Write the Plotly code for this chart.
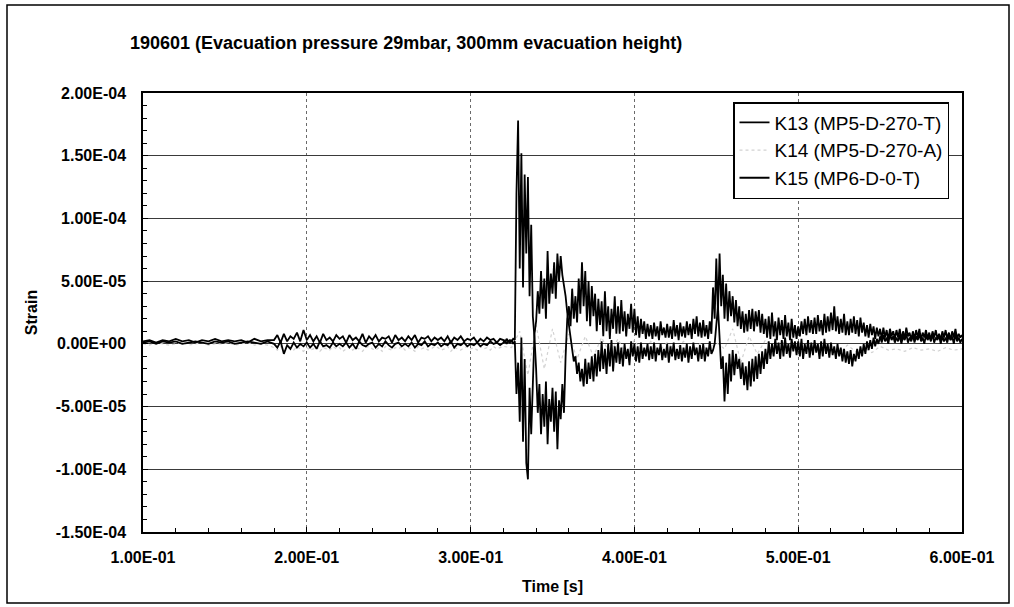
import numpy as np
import plotly.graph_objects as go

# ---------------- data (strain values, in microstrain) -------------
# time segments (s): each segment's samples are spread evenly between start and end
SEG_A = (0.100, 0.176)
SEG_B = (0.180, 0.318)
SEG_C = (0.320, 0.600)
SEG_C14 = (0.320, 0.600)

k13_a = [2, 3, 1, 3, 2, 4, 2, 3, 1, 3, 2, 4, 2, 3, 2, 3, 1, 4, 2, 3]
k13_b = [3, 7, 1, 8, 2, 6, 4, 9, 2, 11,
         3, 7, 2, 6, 1, 8, 3, 5, 2, 7,
         4, 6, 1, 7, 3, 5, 2, 8, 1, 6,
         3, 7, 2, 5, 4, 6, 1, 7, 3, 5,
         2, 6, 3, 7, 1, 5, 4, 6, 2, 5,
         3, 5, 2, 6, 1, 5, 3, 6, 2, 4,
         3, 5, 1, 4, 2, 5, 3, 4, 1, 4]
k13_c = [3, 1, 4, 2, 3, 2, 4, 3, 120, 178,
         60, 152, 45, 135, 72, 133, 38, 95, 22, 5,
         -20, -55, -32, -72, -40, -66, -30, -80, -44, -62,
         -35, -70, -38, -84, -45, -60, -32, -55, -10, 20,
         30, 14, 44, 20, 38, 17, 52, 24, 65, 30,
         58, 18, 50, 14, 46, 22, 40, 10, 36, 15,
         34, 6, 42, 10, 30, 4, 28, 12, 38, 8,
         30, 8, 35, 10, 26, 6, 24, 12, 32, 9,
         28, 7, 22, 5, 20, 8, 18, 4, 16, 6,
         15, 4, 17, 6, 14, 3, 18, 7, 13, 5,
         16, 5, 14, 4, 19, 6, 15, 3, 17, 6,
         14, 5, 18, 7, 16, 4, 20, 8, 22, 6,
         17, 5, 19, 6, 15, 4, 18, 8, 45, 20,
         68, 25, 72, 30, 55, 20, 48, 18, 42, 22,
         38, 17, 35, 14, 30, 12, 26, 9, 24, 10,
         27, 12, 28, 10, 26, 14, 27, 9, 24, 8,
         20, 5, 22, 4, 25, 6, 18, 3, 21, 7,
         19, 4, 23, 6, 17, 3, 20, 5, 15, 4,
         14, 6, 18, 8, 20, 7, 22, 9, 19, 8,
         21, 8, 23, 10, 19, 7, 24, 9, 22, 10,
         25, 11, 30, 10, 22, 8, 20, 9, 24, 7,
         18, 7, 20, 9, 22, 8, 19, 6, 21, 9,
         17, 6, 15, 5, 16, 7, 14, 4, 13, 6,
         12, 4, 13, 5, 11, 3, 12, 6, 10, 4,
         11, 5, 12, 3, 10, 4, 13, 6, 9, 3,
         10, 4, 11, 5, 12, 3, 9, 5, 11, 4,
         9, 3, 10, 5, 11, 4, 8, 3, 10, 5,
         11, 4, 9, 3, 10, 5, 12, 4, 8, 5,
         7]

k15_a = [1, 2, 0, 2, 1, 2, 0, 1, 2, 1, 0, 2, 1, 2, 0, 1, 2, 1, 0, 2]
k15_b = [0, -3, 2, -8, -1, -4, 1, -3, 0, -2,
         1, -3, 0, -4, 2, -2, -1, -3, 1, -2,
         0, -2, 1, -3, 0, -4, 2, -1, -2, 0,
         1, -3, 0, -2, 2, -1, -3, 0, 1, -2,
         0, -2, 1, -3, 0, -1, 2, -2, 0, -1,
         1, -2, 0, -1, 2, -3, 0, -1, 1, -2,
         0, -1, 1, -2, 0, -1, 2, 0, 1, -1]
k15_c = [1, 3, 0, 2, 1, 3, 0, 2, -40, -15,
         -62, 5, -78, -12, -95, -108, -35, -72, -25, 8,
         18, 42, 24, 58, 28, 52, 20, 74, 32, 56,
         40, 65, 36, 72, 50, 70, 55, 48, 38, 25,
         14, 3, -6, -14, -10, -24, -15, -30, -20, -34,
         -12, -32, -15, -28, -10, -30, -8, -26, -5, -22,
         2, -20, -4, -24, 0, -18, 3, -22, -2, -15,
         1, -16, -3, -18, 0, -12, -4, -17, 2, -10,
         0, -14, -2, -15, 1, -12, -3, -10, 0, -13,
         -2, -12, 1, -14, -3, -9, 0, -13, -4, -11,
         0, -15, -2, -10, 1, -13, -4, -12, -1, -14,
         -3, -11, 0, -15, -2, -12, 1, -9, -3, -14,
         -1, -12, 0, -14, -3, -10, 2, -8, -5, 0,
         15, 30, 5, -20, -10, -46, -15, -40, -8, -30,
         -5, -25, -8, -20, -12, -28, -15, -33, -18, -37,
         -14, -34, -12, -30, -10, -28, -8, -24, -6, -20,
         -4, -16, 2, -12, 0, -10, 4, -8, 1, -12,
         3, -10, 5, -8, 0, -11, 4, -6, 2, -9,
         2, -10, 4, -12, 0, -8, 3, -11, 1, -9,
         3, -7, 0, -12, 2, -10, 4, -8, 0, -11,
         1, -9, -2, -12, 0, -10, -3, -14, -4, -15,
         -6, -16, -5, -18, -8, -14, -4, -12, -2, -10,
         0, -8, 2, -5, 3, -4, 5, -2, 4, 0,
         6, 1, 7, 2, 5, 0, 8, 3, 6, 1,
         5, 2, 7, 0, 6, 3, 8, 1, 5, 2,
         7, 1, 6, 3, 8, 2, 5, 0, 7, 3,
         6, 2, 8, 1, 5, 3, 7, 0, 6, 2,
         5, 1, 7, 3, 6, 0, 8, 2, 5, 1,
         4]

k14_a = [0, -1, 1, 0, -1, 0, 1, -1, 0, 1, -1, 0, 0, 1, -1, 0, 1, -1, 0, -1]
k14_b = [-3, -5, -2, -6, -4, -3, -5, -2, -4, -6,
         -3, -5, -4, -2, -6, -3, -4, -5, -2, -4,
         -3, -6, -4, -2, -5, -3, -4, -6, -3, -2,
         -4, -5, -3, -6, -2, -4, -5, -3, -4, -2,
         -5, -3, -4, -6, -2, -4, -3, -5, -4, -2,
         -3, -5, -4, -2, -6, -3, -4, -5, -3, -2,
         -4, -3, -5, -2, -4, -3, -5, -2, -4, -3]
k14_c = [-2, -3, 10, -25, 15, -20, 12, -15, 8, -12,
         6, -10, 5, -8, 4, -9, 3, -7, 2, -6,
         1, -5, 2, -6, 0, -5, 1, -4, 12, -15,
         6, -8, 3, -6, 2, -5, 1, -7, 0, -6,
         -2, -8, -1, -6, -3, -7, -2, -5, -4, -6,
         -3, -5, -4, -6, -3, -5, -4]

series_names = ["K13 (MP5-D-270-T)", "K14 (MP5-D-270-A)", "K15 (MP6-D-0-T)"]

x_tickvals = [0.1, 0.2, 0.3, 0.4, 0.5, 0.6]
x_ticktext = ["1.00E-01", "2.00E-01", "3.00E-01", "4.00E-01", "5.00E-01", "6.00E-01"]
y_tickvals = [-1.5e-4, -1.0e-4, -5.0e-5, 0.0, 5.0e-5, 1.0e-4, 1.5e-4, 2.0e-4]
y_ticktext = ["-1.50E-04", "-1.00E-04", "-5.00E-05", "0.00E+00",
              "5.00E-05", "1.00E-04", "1.50E-04", "2.00E-04"]

MICRO = 1e-6


def build(segments):
    xs, ys = [], []
    for (t0, t1), vals in segments:
        xs.append(np.linspace(t0, t1, len(vals)))
        ys.append(np.array(vals, dtype=float) * MICRO)
    return np.concatenate(xs), np.concatenate(ys)


t13, v13 = build([(SEG_A, k13_a), (SEG_B, k13_b), (SEG_C, k13_c)])
t14, v14 = build([(SEG_A, k14_a), (SEG_B, k14_b), (SEG_C14, k14_c)])
t15, v15 = build([(SEG_A, k15_a), (SEG_B, k15_b), (SEG_C, k15_c)])

FONT = "Liberation Sans, Arial, sans-serif"

fig = go.Figure()
fig.add_trace(go.Scatter(x=t14, y=v14, mode="lines", name=series_names[1],
                         line=dict(color="#d2d2d2", width=1.2, dash="dot"), legendrank=2))
fig.add_trace(go.Scatter(x=t13, y=v13, mode="lines", name=series_names[0],
                         line=dict(color="#000000", width=1.8), legendrank=1))
fig.add_trace(go.Scatter(x=t15, y=v15, mode="lines", name=series_names[2],
                         line=dict(color="#000000", width=1.8), legendrank=3))

W, H = 1014, 607
L, R, T, B = 143, 52, 93, 75
pw, ph = W - L - R, H - T - B


def px(xp):
    return (xp - L) / pw


def py(yp):
    return (H - B - yp) / ph


fig.update_layout(
    width=W, height=H,
    margin=dict(l=L, r=R, t=T, b=B),
    paper_bgcolor="white", plot_bgcolor="white",
    font=dict(family=FONT, color="black"),
    title=dict(text="<b>190601 (Evacuation pressure 29mbar, 300mm evacuation height)</b>",
               x=130 / W, xref="container", xanchor="left",
               y=1 - 43 / H, yref="container", yanchor="middle",
               font=dict(size=18, family=FONT, color="black")),
    showlegend=True,
    legend=dict(x=px(733), y=py(102), xanchor="left", yanchor="top",
                bgcolor="white", bordercolor="black", borderwidth=1.5,
                font=dict(size=19, family=FONT, color="black"),
                tracegroupgap=0, itemwidth=30),
    shapes=[dict(type="rect", xref="paper", yref="paper",
                 x0=px(7), x1=px(1009), y0=py(603), y1=py(5),
                 line=dict(color="black", width=1.5), layer="below")],
)

fig.update_xaxes(
    range=[0.1, 0.6], tickvals=x_tickvals, ticktext=x_ticktext,
    tickfont=dict(size=16, family=FONT, weight="bold"),
    ticks="inside", ticklen=5, tickcolor="black",
    minor=dict(ticks="inside", dtick=0.02, ticklen=4, tickcolor="black", showgrid=False),
    showgrid=True, gridcolor="#6a6a6a", gridwidth=1, griddash="dot",
    showline=True, linecolor="black", linewidth=1.5, mirror=True,
    zeroline=False, ticklabelstandoff=10,
    title=dict(text="<b>Time [s]</b>", font=dict(size=16, family=FONT), standoff=16),
)
fig.update_yaxes(
    range=[-1.5e-4, 2.0e-4], tickvals=y_tickvals, ticktext=y_ticktext,
    tickfont=dict(size=16, family=FONT, weight="bold"),
    ticks="inside", ticklen=5, tickcolor="black",
    minor=dict(ticks="inside", dtick=1e-5, ticklen=4, tickcolor="black", showgrid=False),
    showgrid=True, gridcolor="#3a3a3a", gridwidth=1,
    showline=True, linecolor="black", linewidth=1.5, mirror=True,
    zeroline=False, ticklabelstandoff=12,
    title=dict(text="<b>Strain</b>", font=dict(size=16, family=FONT), standoff=14),
)

fig.write_html("out.html")
